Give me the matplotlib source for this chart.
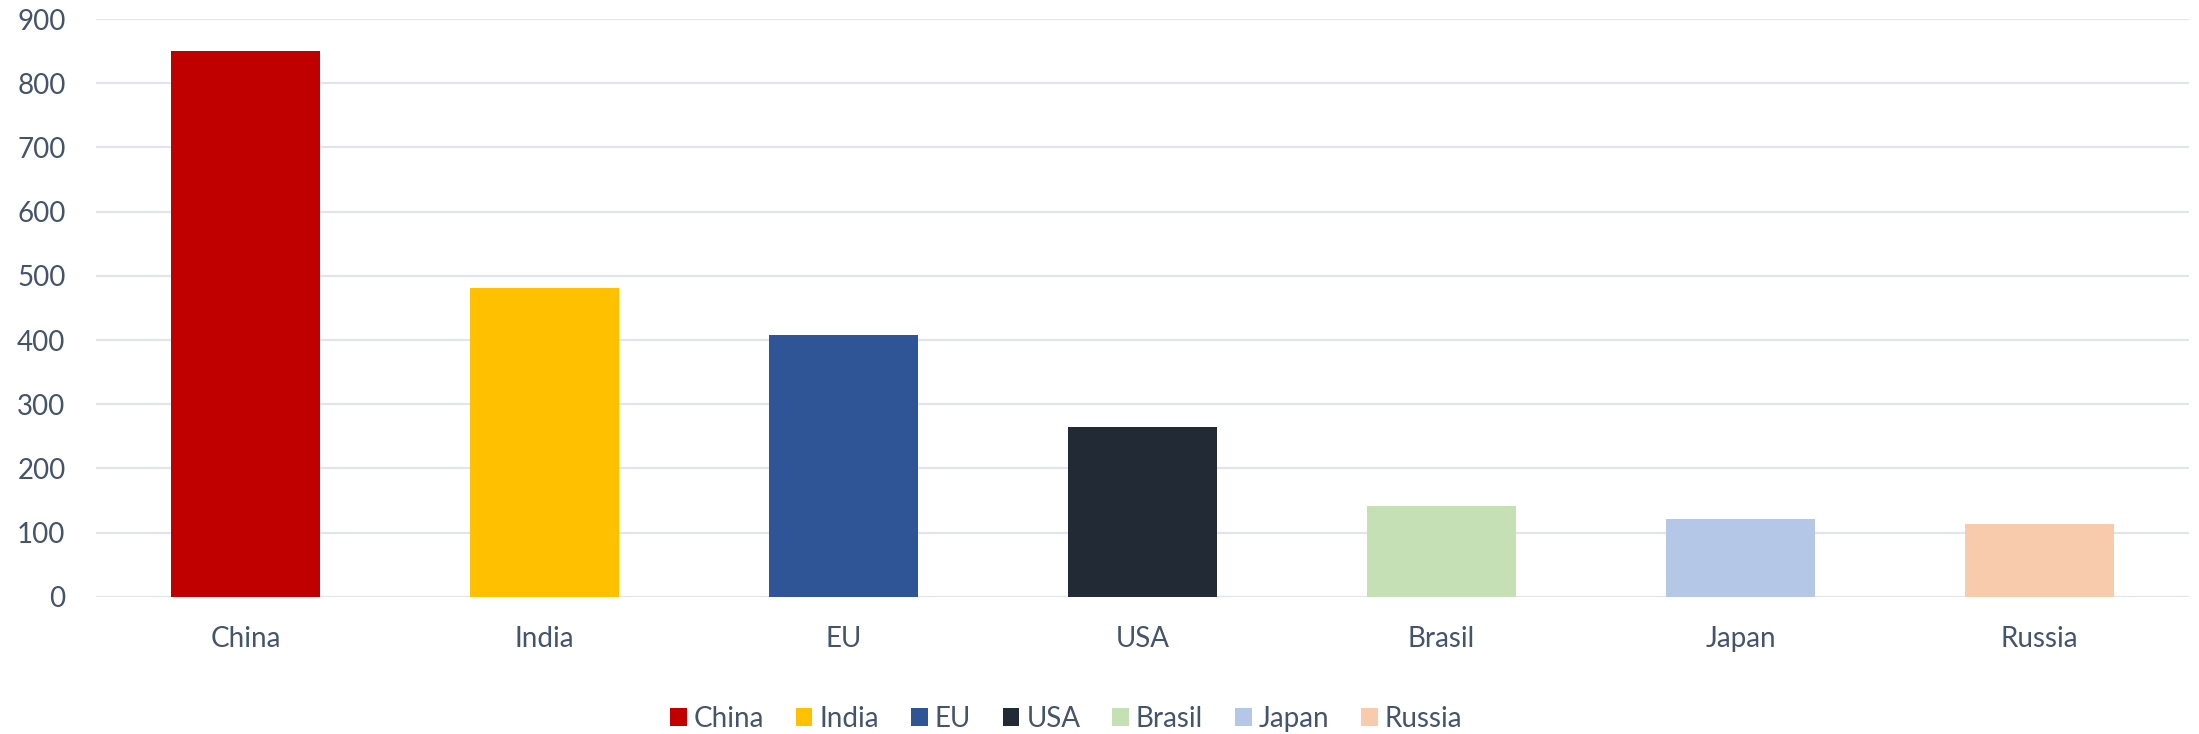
import matplotlib.pyplot as plt

countries = ["China", "India", "EU", "USA", "Brasil", "Japan", "Russia"]
values = [850, 481, 408, 265, 141, 121, 113]
colors = ["#C00000", "#FFC000", "#2F5597", "#222A35", "#C5E0B4", "#B4C7E7", "#F8CBAD"]

text_color = "#44546A"
grid_color = "#E1E5EB"

plt.rcParams["font.family"] = ["Lato", "DejaVu Sans"]

fig = plt.figure(figsize=(21.99, 7.34), dpi=100)
ax = fig.add_axes([0.0437, 0.187, 0.9518, 0.787])

bars = ax.bar(countries, values, width=0.5, color=colors, zorder=3)
for bar, label in zip(bars, countries):
    bar.set_label(label)

ax.set_ylim(0, 900)
ax.set_xlim(-0.5, len(countries) - 0.5)
ax.set_yticks(range(0, 1000, 100))
ax.grid(axis="y", color=grid_color, linewidth=1.6, zorder=0)
ax.set_axisbelow(True)
for side in ["top", "right", "left", "bottom"]:
    ax.spines[side].set_visible(False)
ax.tick_params(axis="both", length=0, labelsize=20, labelcolor=text_color)
ax.tick_params(axis="y", pad=22)
ax.tick_params(axis="x", pad=21)

fig.legend(handles=bars, loc="center", bbox_to_anchor=(0.4848, 0.021), ncol=7,
           frameon=False, fontsize=20, labelcolor=text_color,
           handlelength=0.6, handleheight=0.6, handletextpad=0.25, columnspacing=1.15)

fig.savefig("out.png", dpi=100)
